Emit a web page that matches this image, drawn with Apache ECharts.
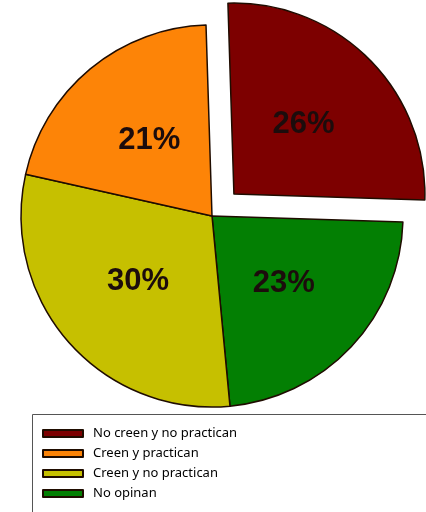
<!DOCTYPE html>
<html>
<head>
<meta charset="utf-8">
<script src="https://cdn.jsdelivr.net/npm/echarts@6/dist/echarts.min.js"></script>
<style>
  html, body { margin: 0; padding: 0; background: #fff; }
  #pie { width: 426px; height: 512px; }
</style>
</head>
<body>
<div id="pie"></div>
<script>
// datos
const names = ['No creen y no practican', 'No opinan', 'Creen y no practican', 'Creen y practican']
const values = [26, 23, 30, 21]
const colors = ['#7d0000', '#037f03', '#c6c000', '#fd8407']
const legendOrder = ['No creen y no practican', 'Creen y practican', 'Creen y no practican', 'No opinan']

const chart = echarts.init(document.getElementById('pie'))

const data = names.map((n, i) => ({
  name: n,
  value: values[i],
  selected: i === 0,
  itemStyle: { color: colors[i] }
}))

chart.setOption({
  animation: false,
  legend: {
    orient: 'vertical',
    left: 42,
    top: 427,
    padding: 0,
    data: legendOrder,
    icon: 'rect',
    itemWidth: 40,
    itemHeight: 7,
    itemGap: 7,
    selectedMode: false,
    textStyle: {
      fontFamily: 'Noto Sans',
      fontSize: 13,
      color: '#000',
      padding: [0, 0, 0, 5]
    }
  },
  graphic: [
    {
      type: 'rect',
      shape: { x: 32.5, y: 414.5, width: 420, height: 120 },
      style: { fill: 'none', stroke: '#555', lineWidth: 1 },
      z: -1
    }
  ],
  series: [
    {
      type: 'pie',
      center: [212, 216],
      radius: [0, 191],
      startAngle: 91.8,
      clockwise: true,
      selectedMode: 'single',
      selectedOffset: 31,
      emphasis: { disabled: true },
      itemStyle: {
        borderColor: '#1f0c00',
        borderWidth: 1.5
      },
      label: {
        show: true,
        position: 'inside',
        formatter: '{c}%',
        fontFamily: 'Liberation Sans',
        fontWeight: 'bold',
        fontSize: 31,
        color: '#1c0c0c'
      },
      labelLine: { show: false },
      data: data
    }
  ]
})
</script>
</body>
</html>
